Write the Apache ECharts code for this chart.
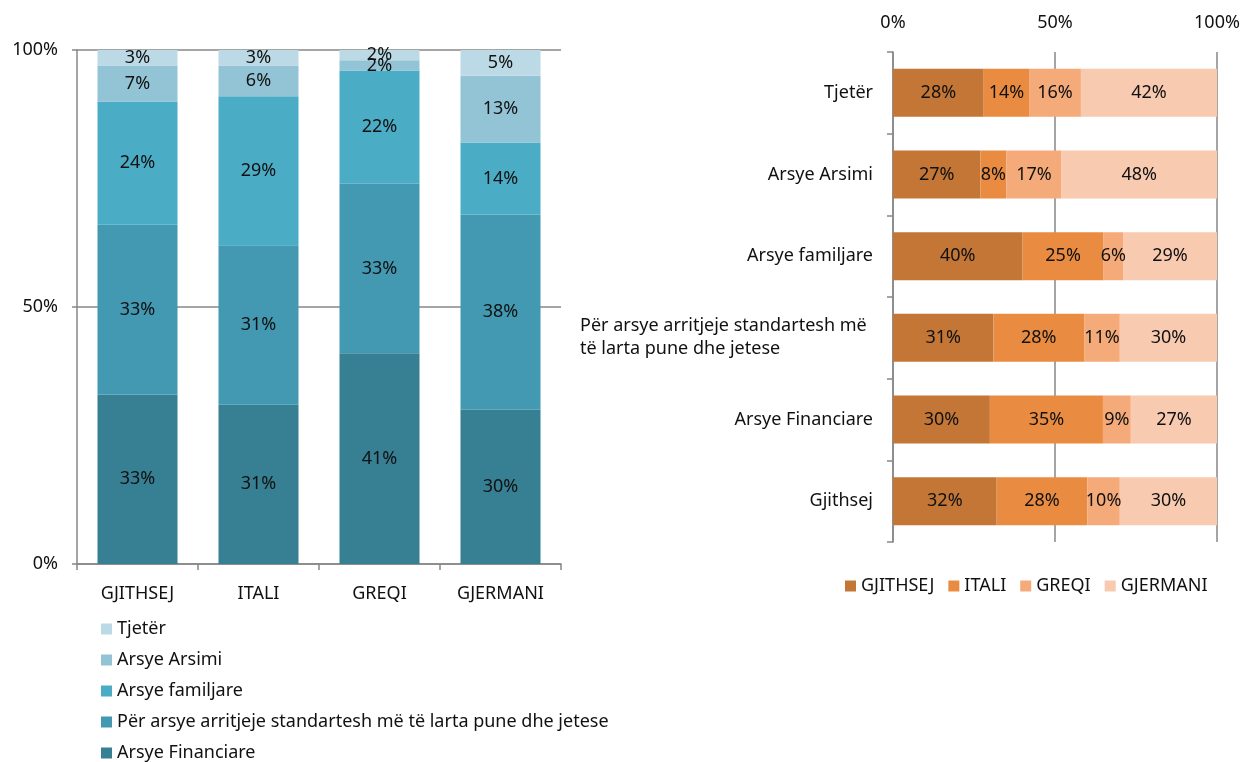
<!DOCTYPE html>
<html>
<head>
<meta charset="utf-8">
<script src="https://cdn.jsdelivr.net/npm/echarts@6/dist/echarts.min.js"></script>
<style>
  html, body { margin: 0; padding: 0; background: #fff; }
  #chart { width: 1244px; height: 762px; }
</style>
</head>
<body>
<div id="chart"></div>
<script>
// left chart: share of reasons per country
const countries = ['GJITHSEJ', 'ITALI', 'GREQI', 'GJERMANI']
const financiare = [33, 31, 41, 30]
const standarte = [33, 31, 33, 38]
const familjare = [24, 29, 22, 14]
const arsimi = [7, 6, 2, 13]
const tjeter = [3, 3, 2, 5]

// right chart: share of countries per reason (top to bottom)
const reasons = ['Tjetër', 'Arsye Arsimi', 'Arsye familjare',
  'Për arsye arritjeje standartesh më të larta pune dhe jetese', 'Arsye Financiare', 'Gjithsej']
const rGjithsej = [28, 27, 40, 31, 29.9, 32]
const rItali = [14, 8, 25, 28, 34.9, 28]
const rGreqi = [16, 17, 6, 11, 8.6, 10]
const rGjermani = [42, 48, 29, 30, 26.6, 30]

const yTicks = [0, 50, 100]

const FONT = 'Noto Sans'
const FS = 18
const INK = '#111'
const GREY = '#878787'
const LONG = reasons[3]

const blues = ['#377F93', '#4299B1', '#4BACC6', '#93C4D5', '#BCDAE5']
const oranges = ['#C37636', '#E98C42', '#F5AA7A', '#F8CAB0']

const pct = p => Math.round(p.value) + '%'

function leftBar(name, data, color) {
  return {
    name, type: 'bar', stack: 'left', data,
    xAxisIndex: 0, yAxisIndex: 0,
    barWidth: 80,
    itemStyle: { color },
    label: { show: true, position: 'inside', color: INK, fontSize: FS, fontFamily: FONT, formatter: pct }
  }
}

function rightBar(name, data, color) {
  return {
    name, type: 'bar', stack: 'right', data,
    xAxisIndex: 1, yAxisIndex: 1,
    barWidth: 48,
    itemStyle: { color },
    label: { show: true, position: 'inside', color: INK, fontSize: FS, fontFamily: FONT, formatter: pct }
  }
}

const chart = echarts.init(document.getElementById('chart'))
chart.setOption({
  animation: false,
  textStyle: { fontFamily: FONT },
  grid: [
    { left: 77, right: 683, top: 50, bottom: 198 },
    { left: 893, right: 27, top: 52, bottom: 220 }
  ],
  legend: [
    {
      orient: 'vertical', left: 101, top: 620, height: 200, padding: 0, itemGap: 13,
      itemWidth: 11, itemHeight: 11, icon: 'rect',
      textStyle: { fontSize: FS, color: INK, fontFamily: FONT },
      data: ['Tjetër', 'Arsye Arsimi', 'Arsye familjare',
        'Për arsye arritjeje standartesh më të larta pune dhe jetese', 'Arsye Financiare']
    },
    {
      orient: 'horizontal', left: 840, top: 572, itemGap: 14,
      itemWidth: 11, itemHeight: 11, icon: 'rect',
      textStyle: { fontSize: FS, color: INK, fontFamily: FONT },
      data: ['GJITHSEJ', 'ITALI', 'GREQI', 'GJERMANI']
    }
  ],
  xAxis: [
    {
      gridIndex: 0, type: 'category', data: countries,
      axisLine: { lineStyle: { color: GREY, width: 1.5 } },
      axisTick: { show: true, length: 6, lineStyle: { color: GREY, width: 1.5 } },
      axisLabel: { color: INK, fontSize: FS, margin: 21, fontFamily: FONT }
    },
    {
      gridIndex: 1, type: 'value', position: 'top', min: 0, max: 100, interval: 50,
      axisLine: { show: false },
      axisTick: { show: false },
      splitLine: { show: true, lineStyle: { color: GREY, width: 1.5 } },
      axisLabel: { color: INK, fontSize: FS, margin: 20, fontFamily: FONT, formatter: '{value}%' }
    }
  ],
  yAxis: [
    {
      gridIndex: 0, type: 'value', min: yTicks[0], max: yTicks[2], interval: 50,
      axisLine: { show: true, lineStyle: { color: GREY, width: 1.5 } },
      axisTick: { show: true, length: 5, lineStyle: { color: GREY, width: 1.5 } },
      splitLine: { show: true, lineStyle: { color: GREY, width: 1.5 } },
      axisLabel: { color: INK, fontSize: FS, margin: 19, fontFamily: FONT, formatter: '{value}%' }
    },
    {
      gridIndex: 1, type: 'category', data: reasons, inverse: true,
      axisLine: { show: true, lineStyle: { color: GREY, width: 1.5 } },
      axisTick: { show: true, length: 6, lineStyle: { color: GREY, width: 1.5 } },
      axisLabel: {
        color: INK, fontSize: FS, margin: 20, fontFamily: FONT,
        formatter: v => v === LONG
          ? '{l|Për arsye arritjeje standartesh më}\n{l|të larta pune dhe jetese}'
          : v,
        rich: { l: { width: 293, align: 'left', fontSize: FS, lineHeight: 23, color: INK, fontFamily: FONT } }
      }
    }
  ],
  series: [
    leftBar('Arsye Financiare', financiare, blues[0]),
    leftBar('Për arsye arritjeje standartesh më të larta pune dhe jetese', standarte, blues[1]),
    leftBar('Arsye familjare', familjare, blues[2]),
    leftBar('Arsye Arsimi', arsimi, blues[3]),
    leftBar('Tjetër', tjeter, blues[4]),
    rightBar('GJITHSEJ', rGjithsej, oranges[0]),
    rightBar('ITALI', rItali, oranges[1]),
    rightBar('GREQI', rGreqi, oranges[2]),
    rightBar('GJERMANI', rGjermani, oranges[3])
  ]
})
</script>
</body>
</html>
